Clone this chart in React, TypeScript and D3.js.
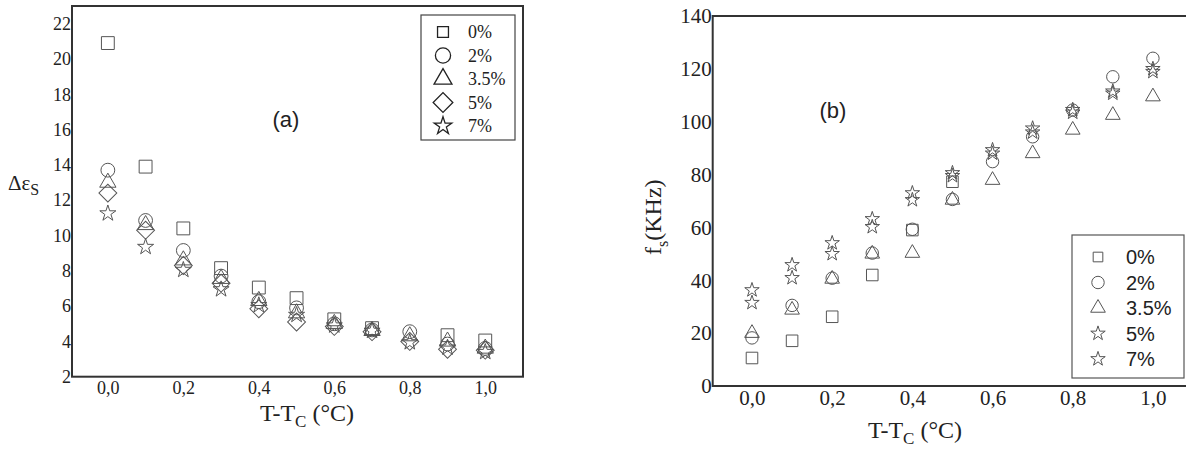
import React, { useRef, useEffect } from 'react';
import * as d3 from 'd3';

// T - Tc (°C)
const temps = [0, 0.1, 0.2, 0.3, 0.4, 0.5, 0.6, 0.7, 0.8, 0.9, 1.0];
const concLabels = ['0%', '2%', '3.5%', '5%', '7%'];
const tempTicks = [0, 0.2, 0.4, 0.6, 0.8, 1.0];
const epsTicks = [2, 4, 6, 8, 10, 12, 14, 16, 18, 20, 22];
const freqTicks = [0, 20, 40, 60, 80, 100, 120, 140];

// (a) dielectric strength
const eps0 = [20.9, 13.9, 10.4, 8.15, 7.05, 6.45, 5.25, 4.75, null, 4.35, 4.05];
const eps2 = [13.7, 10.85, 9.15, 7.7, 6.25, 5.9, 5.0, 4.65, 4.55, 3.85, 3.6];
const eps35 = [13.0, 10.6, 8.6, 7.55, 6.3, 5.6, 5.0, 4.6, 4.3, 4.0, 3.6];
const eps5 = [12.4, 10.3, 8.3, 7.3, 5.85, 5.1, 4.85, 4.55, 4.0, 3.55, 3.5];
const eps7 = [11.25, 9.35, 8.05, 6.95, 6.05, 5.5, 4.9, 4.6, 3.95, 3.65, 3.4];

// (b) relaxation frequency (kHz)
const f0 = [10.6, 17.1, 26.2, 42, 59, 77.3, null, null, null, null, null];
const f2 = [18.2, 30.5, 40.8, 50.3, 59.3, 70.6, 84.9, 94.3, 104.4, 117, 124];
const f35 = [20, 28.8, 40.5, 50, 50.3, 70.4, 77.9, 88, 96.9, 102.5, 109.5];
const f5 = [31.5, 40.9, 50, 60.2, 70.4, 79.5, 88, 96, 103.5, 110.7, 118.9];
const f7 = [36.3, 45.8, 54.1, 63.2, 73, 80.6, 89.3, 97.5, 104.5, 111.5, 120];

const shapesA = ['square', 'circle', 'triangle', 'diamond', 'star'];
const shapesB = ['square', 'circle', 'triangle', 'star', 'star'];

const serif = 'Liberation Serif';
const sans = 'Liberation Sans';
const comma = (d: number) => d3.format('.1f')(d).replace('.', ',');

const Marker = ({ kind, x, y, s = 1, stroke = '#555', sw = 1 }: any) => {
  let path: string;
  let rot = 0;
  if (kind === 'square') path = d3.symbol(d3.symbolSquare, 165 * s * s)()!;
  else if (kind === 'circle') path = d3.symbol(d3.symbolCircle, 150 * s * s)()!;
  else if (kind === 'triangle') path = d3.symbol(d3.symbolTriangle, 115 * s * s)()!;
  else if (kind === 'diamond') {
    path = d3.symbol(d3.symbolSquare, 160 * s * s)()!;
    rot = 45;
  } else path = d3.symbol(d3.symbolStar, 80 * s * s)()!;
  return (
    <path
      d={path}
      transform={`translate(${x},${y}) rotate(${rot})`}
      fill='none'
      stroke={stroke}
      strokeWidth={sw}
    />
  );
};

const Axis = ({ scale, orient, values, transform, fontSize, format, padding }: any) => {
  const ref = useRef<SVGGElement | null>(null);
  useEffect(() => {
    if (!ref.current) return;
    const ax = orient === 'left' ? d3.axisLeft(scale) : d3.axisBottom(scale);
    ax.tickValues(values).tickSize(0).tickPadding(padding).tickFormat(format);
    const g = d3.select(ref.current).call(ax as any);
    g.attr('font-family', null).attr('font-size', null);
    g.select('.domain').remove();
    g.selectAll('text')
      .attr('fill', '#222')
      .style('font-family', serif)
      .style('font-size', `${fontSize}px`);
  });
  return <g ref={ref} transform={transform} />;
};

const App = () => {
  // panel (a)
  const xa = d3.scaleLinear().domain([-0.095, 1.1]).range([72, 523]);
  const ya = d3.scaleLinear().domain([2, 23]).range([376.7, 6]);
  const seriesA = [eps0, eps2, eps35, eps5, eps7];

  // panel (b)
  const xb = d3.scaleLinear().domain([-0.098, 1.1]).range([712.7, 1193]);
  const yb = d3.scaleLinear().domain([0, 140]).range([386, 16]);
  const seriesB = [f0, f2, f35, f5, f7];

  const tSerif = { fontFamily: serif };
  const tSans = { fontFamily: sans };

  return (
    <svg
      width={1186}
      height={451}
      style={{ position: 'absolute', left: 0, top: 0, background: '#fff' }}
    >
      {/* ---------- (a) ---------- */}
      <rect
        x={xa.range()[0]}
        y={ya.range()[1]}
        width={xa.range()[1] - xa.range()[0]}
        height={ya.range()[0] - ya.range()[1]}
        fill='none'
        stroke='#333'
        strokeWidth={2}
      />
      <Axis scale={ya} orient='left' values={epsTicks} transform='translate(72,0)' fontSize={18} format={d3.format('d')} padding={1} />
      <Axis scale={xa} orient='bottom' values={tempTicks} transform='translate(0,377)' fontSize={18} format={comma} padding={4} />
      {seriesA.map((vals, si) =>
        vals.map((v, i) =>
          v == null ? null : (
            <Marker key={`a${si}-${i}`} kind={shapesA[si]} x={xa(temps[i])} y={ya(v)} />
          )
        )
      )}
      <text x={286} y={127} style={tSans} fontSize={22} textAnchor='middle' fill='#222'>(a)</text>
      <text x={8} y={190} style={tSerif} fontSize={21} fill='#222'>
        Δε<tspan fontSize={16} dy={5}>S</tspan>
      </text>
      <text x={260} y={421} style={tSerif} fontSize={24} fill='#222'>
        T-T<tspan fontSize={17} dy={6}>C</tspan>
        <tspan dy={-6}> (°C)</tspan>
      </text>
      {/* legend (a) */}
      <rect x={421} y={15} width={94} height={125} fill='#fff' stroke='#444' strokeWidth={1.2} />
      {concLabels.map((l, i) => (
        <g key={`la${i}`}>
          <Marker kind={shapesA[i]} x={443} y={32 + i * 23.5} s={shapesA[i] === 'square' ? 0.85 : 1.1} stroke='#222' sw={1.3} />
          <text x={468} y={32 + i * 23.5 + 6} style={tSerif} fontSize={18} fill='#222'>{l}</text>
        </g>
      ))}

      {/* ---------- (b) ---------- */}
      <rect
        x={xb.range()[0]}
        y={yb.range()[1]}
        width={xb.range()[1] - xb.range()[0]}
        height={yb.range()[0] - yb.range()[1]}
        fill='none'
        stroke='#333'
        strokeWidth={2}
      />
      <Axis scale={yb} orient='left' values={freqTicks} transform='translate(712.7,0)' fontSize={21} format={d3.format('d')} padding={1} />
      <Axis scale={xb} orient='bottom' values={tempTicks} transform='translate(0,386)' fontSize={21} format={comma} padding={4} />
      {seriesB.map((vals, si) =>
        vals.map((v, i) =>
          v == null ? null : (
            <Marker key={`b${si}-${i}`} kind={shapesB[si]} x={xb(temps[i])} y={yb(v)} s={0.9} />
          )
        )
      )}
      <text x={833} y={118} style={tSans} fontSize={22} textAnchor='middle' fill='#222'>(b)</text>
      <text transform='translate(661,255) rotate(-90)' style={tSerif} fontSize={24} fill='#222'>
        f<tspan fontSize={16} dy={7}>s</tspan>
        <tspan dy={-7}>(KHz)</tspan>
      </text>
      <text x={868} y={438} style={tSerif} fontSize={24} fill='#222'>
        T-T<tspan fontSize={17} dy={6}>C</tspan>
        <tspan dy={-6}> (°C)</tspan>
      </text>
      {/* legend (b) */}
      <rect x={1072} y={235} width={112} height={143} fill='#fff' stroke='#555' strokeWidth={1.2} />
      {concLabels.map((l, i) => (
        <g key={`lb${i}`}>
          <Marker kind={shapesB[i]} x={1098} y={257 + i * 25.5} s={shapesB[i] === 'square' ? 0.75 : 0.9} stroke='#555' sw={1} />
          <text x={1126} y={257 + i * 25.5 + 7} style={tSans} fontSize={20} fill='#222'>{l}</text>
        </g>
      ))}
    </svg>
  );
};

export default App;
